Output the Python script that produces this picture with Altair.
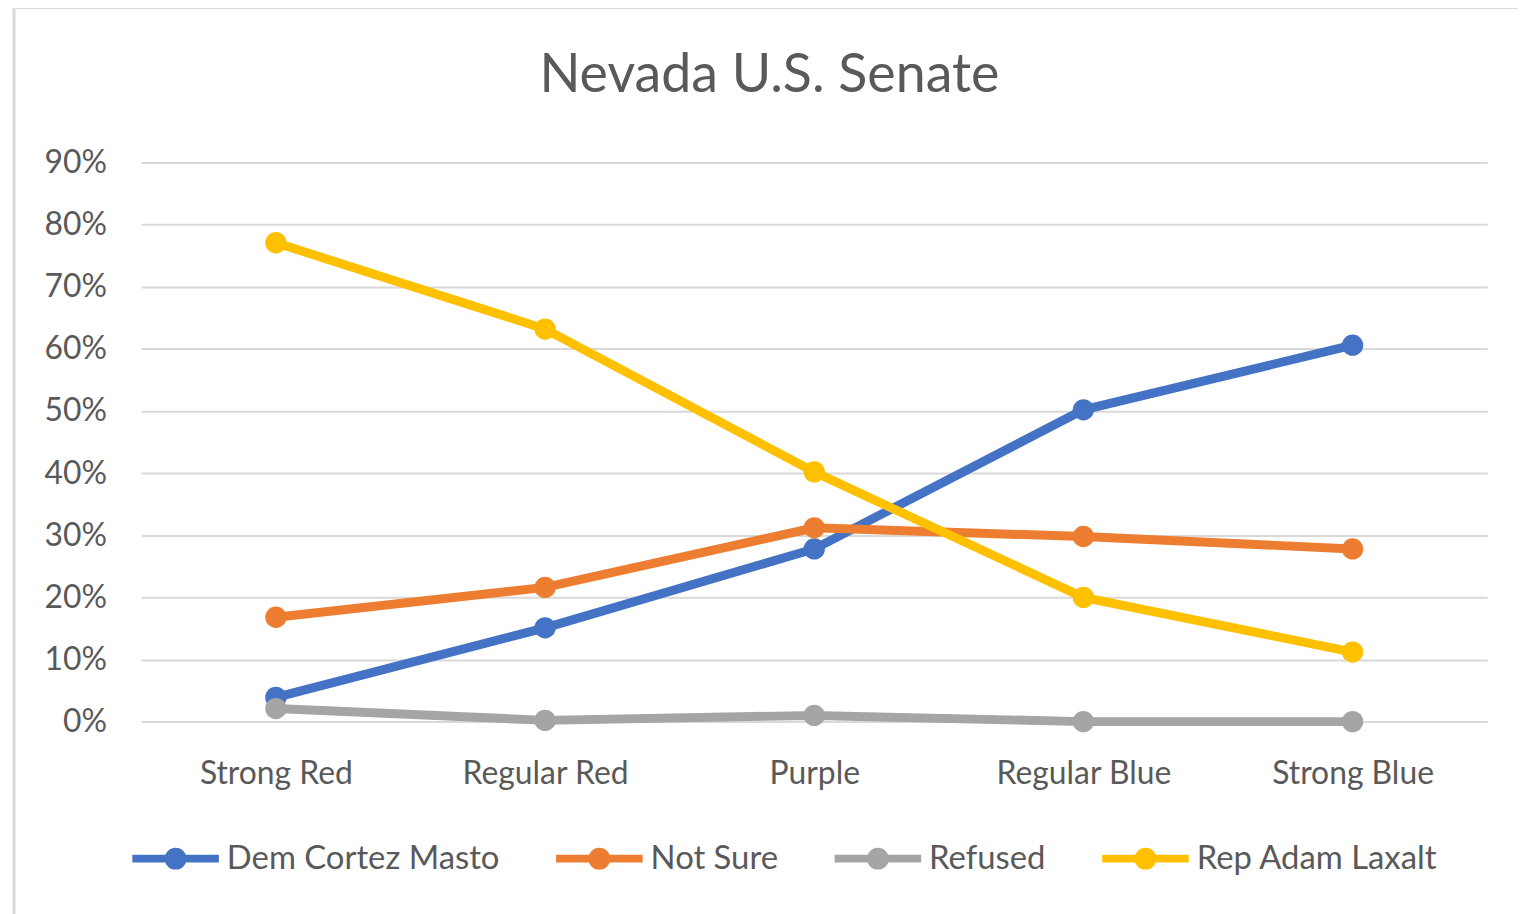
import altair as alt
import pandas as pd

categories = ["Strong Red", "Regular Red", "Purple", "Regular Blue", "Strong Blue"]
series = ["Dem Cortez Masto", "Not Sure", "Refused", "Rep Adam Laxalt"]
dem = [0.039, 0.151, 0.278, 0.502, 0.606]
not_sure = [0.168, 0.216, 0.312, 0.298, 0.278]
refused = [0.021, 0.002, 0.010, 0.000, 0.000]
rep = [0.771, 0.632, 0.402, 0.200, 0.112]
colors = ["#4472C4", "#ED7D31", "#A5A5A5", "#FFC000"]
y_ticks = [0.0, 0.1, 0.2, 0.3, 0.4, 0.5, 0.6, 0.7, 0.8, 0.9]

rows = []
for name, vals in zip(series, [dem, not_sure, refused, rep]):
    for i, (c, v) in enumerate(zip(categories, vals)):
        rows.append({"Segment": c, "Series": name, "Value": v, "order": i})
df = pd.DataFrame(rows)

FONT = "Lato"
TXT = "#595959"

legend_symbol = (
    "M-1,0L1,0"
    "M0.092,0A0.092,0.092,0,1,1,-0.092,0A0.092,0.092,0,1,1,0.092,0"
    "M0.161,0A0.161,0.161,0,1,1,-0.161,0A0.161,0.161,0,1,1,0.161,0"
)

frame = alt.Chart(pd.DataFrame({"k": [0]})).mark_rect(
    fillOpacity=0, stroke="#D9D9D9", strokeWidth=3, clip=False
).encode(
    x=alt.value(-128), x2=alt.value(1400), y=alt.value(-156), y2=alt.value(770)
)

lines = alt.Chart(df).mark_line(
    strokeWidth=9,
    point=alt.OverlayMarkDef(filled=True, size=460, opacity=1),
).encode(
    x=alt.X("Segment:N", sort=categories, scale=alt.Scale(type="point", padding=0.5),
            axis=alt.Axis(title=None, domain=False, ticks=False, labelAngle=0,
                          labelPadding=37, labelFontSize=32, labelColor=TXT,
                          labelFont=FONT, grid=False)),
    y=alt.Y("Value:Q", scale=alt.Scale(domain=[0, 0.9], nice=False),
            axis=alt.Axis(title=None, domain=False, ticks=False, format=".0%",
                          values=y_ticks, labelPadding=35, labelFontSize=32,
                          labelColor=TXT, labelFont=FONT, grid=True,
                          gridColor="#D9D9D9", gridWidth=2)),
    color=alt.Color("Series:N", sort=series,
                    scale=alt.Scale(domain=series, range=colors),
                    legend=alt.Legend(title=None, orient="none", direction="horizontal",
                                      legendX=-13, legendY=652,
                                      symbolType=legend_symbol, symbolSize=7569,
                                      symbolStrokeWidth=8, symbolOpacity=1,
                                      labelFontSize=33, labelColor=TXT, labelFont=FONT,
                                      labelOffset=4, columnPadding=40, padding=0,
                                      labelLimit=400)),
    order=alt.Order("order:Q"),
)

chart = alt.layer(frame, lines).properties(
    width=1353,
    height=562,
    background="white",
    autosize=alt.AutoSizeParams(type="none"),
    padding={"left": 134, "top": 153, "right": 31, "bottom": 191},
    title=alt.TitleParams("Nevada U.S. Senate", fontSize=54, font=FONT, color=TXT,
                          fontWeight="normal", anchor="middle", frame="group",
                          baseline="alphabetic", dx=-45, offset=-141),
).configure_view(strokeWidth=0, stroke="transparent")

chart.save("out.html", embed_options={"renderer": "svg", "actions": False})
